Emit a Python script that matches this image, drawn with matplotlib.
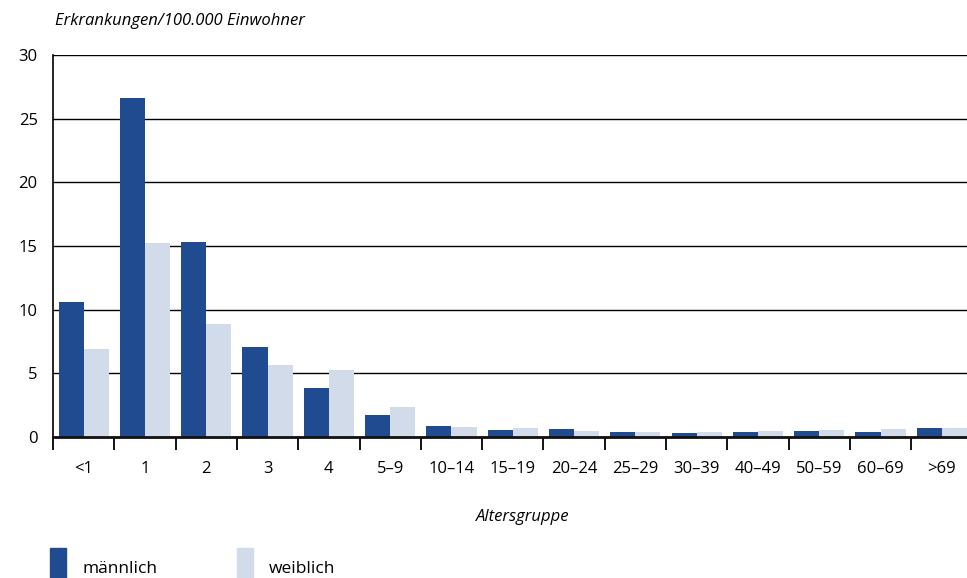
import matplotlib
matplotlib.use("Agg")
import matplotlib.pyplot as plt
from matplotlib.patches import Rectangle
from matplotlib.ticker import FixedLocator
import numpy as np

categories = ["<1", "1", "2", "3", "4", "5–9", "10–14", "15–19", "20–24", "25–29",
              "30–39", "40–49", "50–59", "60–69", ">69"]
maennlich = [10.6, 26.6, 15.3, 7.07, 3.85, 1.73, 0.89, 0.58, 0.65, 0.42,
             0.34, 0.37, 0.50, 0.42, 0.68]
weiblich = [6.9, 15.2, 8.85, 5.65, 5.24, 2.36, 0.81, 0.71, 0.50, 0.37,
            0.42, 0.47, 0.55, 0.60, 0.71]
series_names = ["männlich", "weiblich"]
colors = ["#214b91", "#d1dbe9"]
yticks = [0, 5, 10, 15, 20, 25, 30]
ylabel = "Erkrankungen/100.000 Einwohner"
xlabel = "Altersgruppe"

plt.rcParams['font.family'] = ['Open Sans', 'DejaVu Sans']

W, H = 967, 578
fig = plt.figure(figsize=(W / 100, H / 100), dpi=100)
left, right = 53, 972.5
bottom, top = 437, 55
ax = fig.add_axes([left / W, 1 - bottom / H, (right - left) / W, (bottom - top) / H])

x = np.arange(len(categories))
bw = 0.41
ax.bar(x - bw / 2, maennlich, width=bw, color=colors[0], zorder=3)
ax.bar(x + bw / 2, weiblich, width=bw, color=colors[1], zorder=3)

ax.set_xlim(-0.5, len(categories) - 0.5)
ax.set_ylim(0, 30)
ax.set_yticks(yticks)
ax.set_yticklabels([str(v) for v in yticks], fontsize=12)
ax.tick_params(axis='y', length=0, pad=11)
ax.yaxis.grid(True, color='black', linewidth=1.0, zorder=1)
ax.set_axisbelow(True)

ax.set_xticks(x)
ax.set_xticklabels(categories, fontsize=12)
ax.tick_params(axis='x', which='major', length=0, pad=17)
ax.xaxis.set_minor_locator(FixedLocator(np.arange(-0.5, len(categories), 1.0)))
ax.tick_params(axis='x', which='minor', length=9, width=1.3, color='black', direction='out')

for s in ['top', 'right']:
    ax.spines[s].set_visible(False)
ax.spines['left'].set_color('black')
ax.spines['left'].set_linewidth(1.2)
ax.spines['bottom'].set_color('#111111')
ax.spines['bottom'].set_linewidth(2.0)
ax.spines['bottom'].set_zorder(4)

fig.text(55 / W, 1 - 21 / H, ylabel, fontsize=12, style='italic', ha='left', va='center')
fig.text(523 / W, 1 - 517 / H, xlabel, fontsize=12, style='italic', ha='center', va='center')

leg_x = [50, 237]
for i, name in enumerate(series_names):
    fig.patches.append(Rectangle((leg_x[i] / W, 0), 16 / W, 30 / H,
                                 transform=fig.transFigure, color=colors[i]))
    fig.text((leg_x[i] + 32) / W, 1 - 569 / H, name, fontsize=12.5, ha='left', va='center')

fig.savefig("out.png", dpi=100)
